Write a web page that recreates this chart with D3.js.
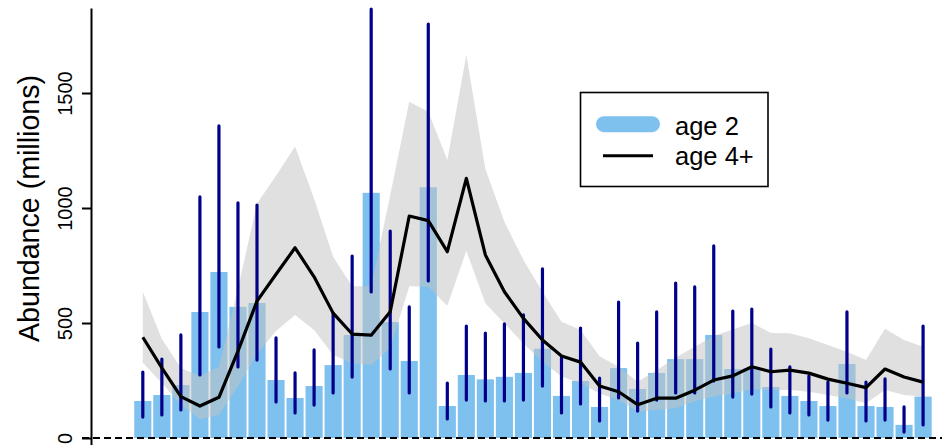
<!DOCTYPE html>
<html>
<head>
<meta charset="utf-8">
<script src="https://cdn.jsdelivr.net/npm/d3@7"></script>
<style>
  html, body { margin: 0; padding: 0; background: #ffffff; }
  svg { display: block; font-family: "Liberation Sans", Arial, Helvetica, sans-serif; }
</style>
</head>
<body>
<svg id="chart" width="942" height="445"></svg>
<script>
// Survey index along the x direction (no axis labels are drawn for it)
const surveys = ["s01","s02","s03","s04","s05","s06","s07","s08","s09","s10",
                 "s11","s12","s13","s14","s15","s16","s17","s18","s19","s20",
                 "s21","s22","s23","s24","s25","s26","s27","s28","s29","s30",
                 "s31","s32","s33","s34","s35","s36","s37","s38","s39","s40",
                 "s41","s42"];

// Age 2 abundance (millions) with its interval
const age2 = [161, 187, 230, 548, 722, 570, 587, 252, 174, 226,
              317, 448, 1066, 504, 335, 1090, 139, 274, 255, 266,
              283, 388, 183, 248, 135, 304, 213, 283, 343, 343,
              448, 300, 304, 222, 183, 161, 139, 322, 139, 135,
              57, 180];
const age2Low = [91, 100, 122, 274, 396, 309, 339, 157, 109, 143,
                 196, 265, 635, 300, 196, 683, 83, 165, 161, 161,
                 165, 226, 109, 148, 74, 174, 117, 165, 196, 196,
                 248, 178, 191, 135, 109, 100, 78, 196, 74, 78,
                 26, 57];
const age2High = [287, 343, 448, 1048, 1357, 1022, 1013, 435, 283, 383,
                  543, 791, 1865, 900, 570, 1800, 239, 487, 456, 496,
                  535, 735, 348, 478, 261, 591, 413, 548, 674, 657,
                  835, 552, 561, 387, 309, 270, 243, 548, 243, 257,
                  135, 487];

// Age 4+ abundance (millions) with its confidence band
const age4 = [438, 305, 180, 139, 177, 378, 595, 712, 827, 701,
              543, 452, 447, 549, 965, 945, 810, 1129, 796, 636,
              520, 426, 357, 330, 226, 201, 145, 173, 173, 208,
              252, 270, 310, 288, 295, 282, 256, 238, 219, 300,
              265, 243];
const age4Low = [327, 239, 143, 82, 100, 225, 365, 465, 535, 470,
                 361, 325, 317, 390, 660, 658, 575, 814, 586, 498,
                 411, 332, 267, 238, 194, 165, 114, 122, 129, 160,
                 180, 194, 212, 209, 209, 201, 187, 172, 151, 209,
                 187, 180];
const age4High = [636, 430, 304, 270, 310, 650, 1020, 1140, 1267, 1040,
                  788, 660, 660, 1055, 1462, 1419, 1209, 1665, 1170, 940,
                  774, 636, 506, 470, 355, 310, 245, 295, 350, 397,
                  444, 472, 500, 457, 455, 434, 404, 375, 339, 475,
                  426, 397];

const yTicks = [0, 500, 1000, 1500];
const yTitle = "Abundance (millions)";
const legendLabels = ["age 2", "age 4+"];

const barColor = "#7EC0EE";
const errColor = "#00008B";
const bandColor = "rgba(195,195,195,0.52)";

const svg = d3.select("#chart");

const x = d3.scaleBand()
  .domain(surveys)
  .range([133.3, 932.6])
  .paddingInner(0.1)
  .paddingOuter(0.05);
const cx = d => x(d) + x.bandwidth() / 2;

const y = d3.scaleLinear()
  .domain([-30.4, 1869.6])
  .range([445, 8]);

// bars
svg.append("g")
  .selectAll("rect")
  .data(surveys)
  .join("rect")
  .attr("x", d => x(d))
  .attr("width", x.bandwidth())
  .attr("y", (d, i) => y(age2[i]))
  .attr("height", (d, i) => y(0) - y(age2[i]))
  .attr("fill", barColor);

// confidence band for age 4+
const area = d3.area()
  .x((d, i) => cx(surveys[i]))
  .y0((d, i) => y(age4Low[i]))
  .y1((d, i) => y(age4High[i]));
svg.append("path")
  .datum(age4)
  .attr("d", area)
  .attr("fill", bandColor);

// interval bars for age 2
svg.append("g")
  .selectAll("line")
  .data(surveys)
  .join("line")
  .attr("x1", d => cx(d))
  .attr("x2", d => cx(d))
  .attr("y1", (d, i) => y(age2Low[i]))
  .attr("y2", (d, i) => y(age2High[i]))
  .attr("stroke", errColor)
  .attr("stroke-width", 3.2)
  .attr("stroke-linecap", "round");

// zero reference line
svg.append("line")
  .attr("x1", 82).attr("x2", 942)
  .attr("y1", y(0)).attr("y2", y(0))
  .attr("stroke", "#000")
  .attr("stroke-width", 2)
  .attr("stroke-dasharray", "7,4");

// age 4+ line
const line = d3.line()
  .x((d, i) => cx(surveys[i]))
  .y(d => y(d));
svg.append("path")
  .datum(age4)
  .attr("d", line)
  .attr("fill", "none")
  .attr("stroke", "#000")
  .attr("stroke-width", 3.2)
  .attr("stroke-linejoin", "round");

// y axis
const axisX = 91;
const yAxis = svg.append("g")
  .attr("transform", `translate(${axisX},0)`)
  .call(d3.axisLeft(y).tickValues(yTicks).tickSize(9).tickSizeOuter(0).tickFormat(d3.format("d")));
yAxis.select(".domain").attr("stroke", "#000").attr("stroke-width", 2);
yAxis.selectAll(".tick line").attr("stroke", "#000").attr("stroke-width", 2);
yAxis.selectAll(".tick text")
  .attr("x", null).attr("dy", null)
  .attr("transform", "translate(-19,0) rotate(-90)")
  .attr("text-anchor", "middle")
  .attr("fill", "#000")
  .style("font-size", "20px")
  .style("font-family", "'Liberation Sans', Arial, sans-serif");

svg.append("text")
  .attr("transform", "translate(38.5,208.5) rotate(-90)")
  .attr("text-anchor", "middle")
  .style("font-size", "28.6px")
  .attr("fill", "#000")
  .text(yTitle);

// legend
const lg = svg.append("g");
lg.append("rect")
  .attr("x", 580.5).attr("y", 92.5)
  .attr("width", 187.5).attr("height", 94)
  .attr("fill", "#fff")
  .attr("stroke", "#000")
  .attr("stroke-width", 1.6);
lg.append("line")
  .attr("x1", 604).attr("x2", 652)
  .attr("y1", 124.2).attr("y2", 124.2)
  .attr("stroke", barColor)
  .attr("stroke-width", 16)
  .attr("stroke-linecap", "round");
lg.append("line")
  .attr("x1", 603).attr("x2", 653)
  .attr("y1", 155.7).attr("y2", 155.7)
  .attr("stroke", "#000")
  .attr("stroke-width", 3);
lg.selectAll("text")
  .data(legendLabels)
  .join("text")
  .attr("x", 675)
  .attr("y", (d, i) => 134.5 + i * 30)
  .style("font-size", "25.5px")
  .attr("fill", "#000")
  .text(d => d);
</script>
</body>
</html>
